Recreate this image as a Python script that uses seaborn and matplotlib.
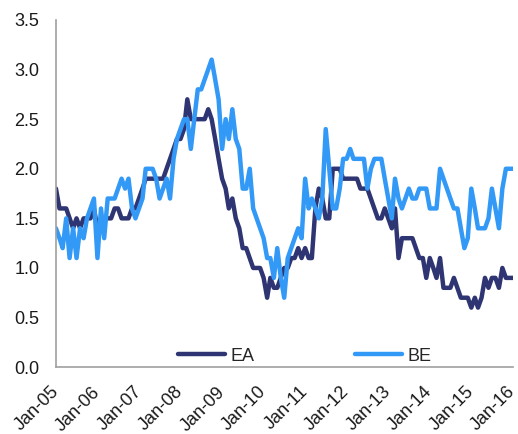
import pandas as pd
import matplotlib.pyplot as plt
import matplotlib.dates as mdates
import seaborn as sns

# monthly values, Jan-05 .. Jan-16
months = pd.date_range('2005-01-01', '2016-01-01', freq='MS')

ea = [1.8, 1.6, 1.6, 1.6, 1.5, 1.4, 1.5, 1.4, 1.5, 1.5, 1.5, 1.6,
      1.4, 1.5, 1.5, 1.5, 1.5, 1.6, 1.6, 1.5, 1.5, 1.5, 1.6, 1.6,
      1.7, 1.8, 1.9, 1.9, 1.9, 1.9, 1.9, 1.9, 2.0, 2.1, 2.2, 2.3,
      2.3, 2.4, 2.7, 2.5, 2.5, 2.5, 2.5, 2.5, 2.6, 2.5, 2.3, 2.1,
      1.9, 1.8, 1.6, 1.7, 1.5, 1.4, 1.2, 1.2, 1.1, 1.0, 1.0, 1.0,
      0.9, 0.7, 0.9, 0.8, 0.8, 0.9, 1.0, 1.0, 1.1, 1.1, 1.2, 1.1,
      1.2, 1.1, 1.1, 1.6, 1.8, 1.7, 1.5, 1.5, 2.0, 2.0, 2.0, 1.9,
      1.9, 1.9, 1.9, 1.9, 1.8, 1.8, 1.8, 1.7, 1.6, 1.5, 1.5, 1.6,
      1.5, 1.4, 1.6, 1.1, 1.3, 1.3, 1.3, 1.3, 1.2, 1.1, 1.1, 0.9,
      1.1, 1.0, 0.9, 1.1, 0.8, 0.8, 0.8, 0.9, 0.8, 0.7, 0.7, 0.7,
      0.6, 0.7, 0.6, 0.7, 0.9, 0.8, 0.9, 0.9, 0.8, 1.0, 0.9, 0.9,
      0.9]

be = [1.4, 1.3, 1.2, 1.5, 1.1, 1.4, 1.1, 1.4, 1.3, 1.5, 1.6, 1.7,
      1.1, 1.6, 1.3, 1.7, 1.7, 1.7, 1.8, 1.9, 1.8, 1.9, 1.6, 1.5,
      1.6, 1.7, 2.0, 2.0, 2.0, 1.9, 1.7, 1.8, 1.9, 1.7, 2.1, 2.3,
      2.4, 2.5, 2.5, 2.2, 2.5, 2.8, 2.8, 2.9, 3.0, 3.1, 2.9, 2.7,
      2.2, 2.5, 2.3, 2.6, 2.3, 2.2, 1.8, 1.8, 2.0, 1.6, 1.5, 1.4,
      1.3, 1.1, 1.1, 0.9, 1.2, 0.9, 0.7, 1.1, 1.2, 1.3, 1.4, 1.3,
      1.9, 1.6, 1.7, 1.6, 1.5, 1.7, 2.4, 2.0, 1.6, 1.6, 1.8, 2.1,
      2.1, 2.2, 2.1, 2.1, 2.1, 2.1, 1.8, 2.0, 2.1, 2.1, 2.1, 1.9,
      1.7, 1.5, 1.9, 1.7, 1.6, 1.7, 1.8, 1.7, 1.7, 1.8, 1.8, 1.8,
      1.6, 1.6, 1.6, 2.0, 1.9, 1.8, 1.7, 1.6, 1.6, 1.4, 1.2, 1.3,
      1.8, 1.6, 1.4, 1.4, 1.4, 1.5, 1.8, 1.6, 1.4, 1.8, 2.0, 2.0,
      2.0]

df = pd.DataFrame({'date': months, 'EA': ea, 'BE': be})
long = df.melt(id_vars='date', var_name='series', value_name='value')

sns.set_style('white')
plt.rcParams['font.family'] = ['Liberation Sans', 'DejaVu Sans']

fig = plt.figure(figsize=(5.18, 4.34), dpi=100)
ax = fig.add_axes([0.108, 0.154, 0.882, 0.800])

sns.lineplot(data=long, x='date', y='value', hue='series',
             palette={'EA': '#2e3572', 'BE': '#3399f7'},
             linewidth=3.2, ax=ax)

ax.set_xlim(months[0], months[-1])
ax.set_ylim(0, 3.5)
ax.set_yticks([0, 0.5, 1.0, 1.5, 2.0, 2.5, 3.0, 3.5])
ax.yaxis.set_major_formatter(plt.FuncFormatter(lambda v, p: f'{v:.1f}'))
ax.xaxis.set_major_locator(mdates.YearLocator(month=1, day=1))
ax.xaxis.set_major_formatter(mdates.DateFormatter('%b-%y'))
plt.setp(ax.get_xticklabels(), rotation=45, ha='right', va='center',
         rotation_mode='anchor')
ax.tick_params(axis='both', length=0, labelsize=13, colors='#1a1a1a')
ax.tick_params(axis='y', pad=12)
ax.tick_params(axis='x', pad=16)
ax.set_xlabel('')
ax.set_ylabel('')

for s in ['top', 'right']:
    ax.spines[s].set_visible(False)
for s in ['left', 'bottom']:
    ax.spines[s].set_color('#a0a0a0')
    ax.spines[s].set_linewidth(1.2)

ax.legend(loc='lower center', bbox_to_anchor=(0.545, -0.04), ncol=2,
          frameon=False, fontsize=13, handlelength=2.6, handletextpad=0.3,
          columnspacing=5.6)

fig.savefig('out.png', dpi=100)
